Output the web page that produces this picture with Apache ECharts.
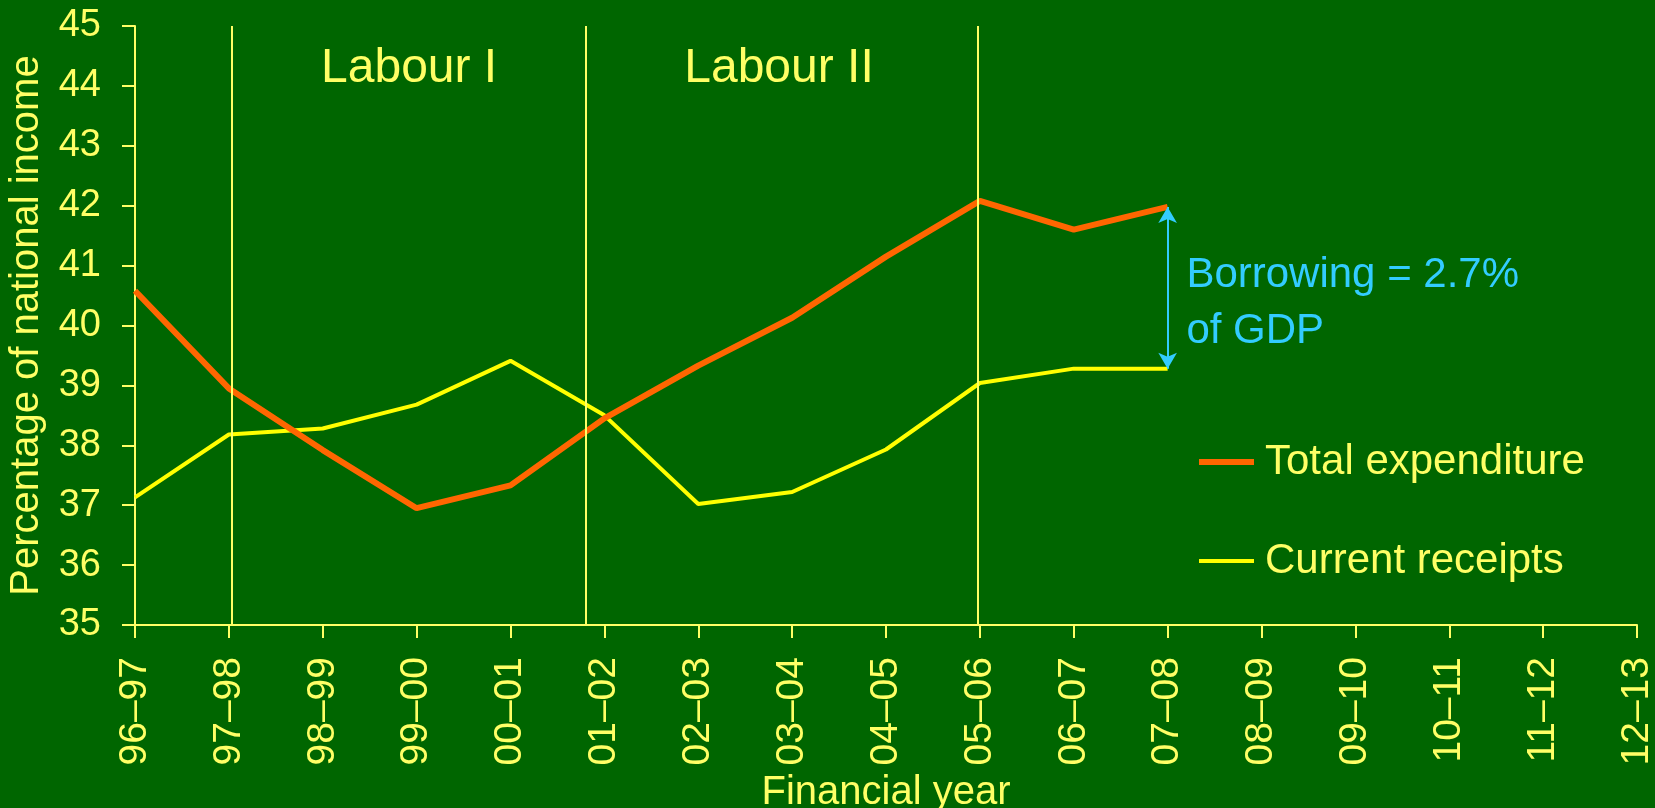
<!DOCTYPE html>
<html>
<head>
<meta charset="utf-8">
<script src="https://cdn.jsdelivr.net/npm/echarts@6/dist/echarts.min.js"></script>
<style>
html,body{margin:0;padding:0;background:#006600;}
#c{width:1655px;height:808px;}
</style>
</head>
<body>
<div id="c"></div>
<script>
// ---- data ----
var years = ['96\u201397','97\u201398','98\u201399','99\u201300','00\u201301','01\u201302','02\u201303','03\u201304','04\u201305','05\u201306','06\u201307','07\u201308','08\u201309','09\u201310','10\u201311','11\u201312','12\u201313'];
var totalExpenditure = [40.58, 38.95, 37.92, 36.95, 37.33, 38.45, 39.33, 40.13, 41.15, 42.08, 41.6, 41.98];
var currentReceipts  = [37.13, 38.18, 38.28, 38.68, 39.41, 38.5, 37.02, 37.22, 37.93, 39.04, 39.28, 39.28];
var yTicks = {min: 35, max: 45, step: 1};
var periodDividers = [1.03, 4.8, 8.98];          // positions (in year index) of the vertical period lines
var periodLabels = [{name: 'Labour I', x: 2.92, y: 44.28}, {name: 'Labour II', x: 6.86, y: 44.28}];
var borrowingText = 'Borrowing = 2.7%\nof GDP';
var borrowingIndex = 11;

var TXT = '#FFFF66';
var FONT = '"Liberation Sans", Arial, sans-serif';

function pairs(arr){ return arr.map(function(v,i){ return [i, v]; }); }

var chart = echarts.init(document.getElementById('c'), null, {renderer: 'canvas'});
var option = {
  backgroundColor: '#006600',
  animation: false,
  textStyle: {fontFamily: FONT},
  grid: {left: 135, right: 18, top: 26, bottom: 183, containLabel: false, outerBoundsMode: 'none'},
  legend: {
    orient: 'vertical',
    left: 1194,
    top: 436,
    itemWidth: 55,
    itemHeight: 6,
    itemGap: 57,
    symbolKeepAspect: true,
    data: [
      {name: 'Total expenditure', icon: 'path://M0,0H55V6H0Z', itemStyle: {color: '#FF6600'}},
      {name: 'Current receipts', icon: 'path://M0,0H55V4H0Z', itemStyle: {color: '#FFFF00'}}
    ],
    textStyle: {color: TXT, fontSize: 42, fontFamily: FONT, padding: [0, 0, 0, 6]}
  },
  xAxis: {
    type: 'value',
    min: 0, max: years.length - 1, interval: 1,
    name: 'Financial year',
    nameLocation: 'middle',
    nameGap: 146,
    nameTextStyle: {color: TXT, fontSize: 40, fontFamily: FONT},
    axisLine: {show: true, lineStyle: {color: TXT, width: 2}},
    axisTick: {show: true, inside: false, length: 13, lineStyle: {color: TXT, width: 2}},
    splitLine: {show: false},
    axisLabel: {
      color: TXT, fontSize: 39, fontFamily: FONT, rotate: 90, margin: 32,
      formatter: function(v){ return years[Math.round(v)] || ''; }
    }
  },
  yAxis: {
    type: 'value',
    min: yTicks.min, max: yTicks.max, interval: yTicks.step,
    name: 'Percentage of national income',
    nameLocation: 'middle',
    nameGap: 88,
    nameMoveOverlap: false,
    nameRotate: 90,
    nameTextStyle: {color: TXT, fontSize: 40, fontFamily: FONT},
    axisLine: {show: true, lineStyle: {color: TXT, width: 2}},
    axisTick: {show: true, inside: false, length: 13, lineStyle: {color: TXT, width: 2}},
    splitLine: {show: false},
    axisLabel: {color: TXT, fontSize: 38, fontFamily: FONT, margin: 34}
  },
  series: [
    {
      name: 'Current receipts',
      type: 'line',
      data: pairs(currentReceipts),
      symbol: 'none',
      z: 3,
      lineStyle: {color: '#FFFF00', width: 4},
      itemStyle: {color: '#FFFF00'},
      markLine: {
        silent: true,
        symbol: ['none', 'none'],
        label: {show: false},
        lineStyle: {color: TXT, width: 2, type: 'solid'},
        data: periodDividers.map(function(x){ return {xAxis: x}; })
      },
      markPoint: {
        silent: true,
        symbol: 'rect', symbolSize: 0,
        label: {show: true, color: TXT, fontSize: 48, fontFamily: FONT, formatter: '{b}', align: 'center', verticalAlign: 'middle', position: 'inside'},
        data: periodLabels.map(function(p){ return {name: p.name, coord: [p.x, p.y]}; })
      }
    },
    {
      name: 'Total expenditure',
      type: 'line',
      data: pairs(totalExpenditure),
      symbol: 'none',
      z: 4,
      lineStyle: {color: '#FF6600', width: 6},
      itemStyle: {color: '#FF6600'},
      markLine: {
        silent: true,
        symbol: ['arrow', 'arrow'],
        symbolSize: [14, 16],
        label: {show: false},
        lineStyle: {color: '#33CCFF', width: 2, type: 'solid'},
        data: [[
          {coord: [borrowingIndex, currentReceipts[borrowingIndex]]},
          {coord: [borrowingIndex, totalExpenditure[borrowingIndex]]}
        ]]
      },
      markPoint: {
        silent: true,
        symbol: 'rect', symbolSize: 0,
        label: {show: true, color: '#33CCFF', fontSize: 42, lineHeight: 56, fontFamily: FONT, formatter: '{b}', align: 'left', verticalAlign: 'middle', position: 'inside'},
        data: [{name: borrowingText, coord: [borrowingIndex + 0.2, 40.37]}]
      }
    }
  ]
};
chart.setOption(option);
</script>
</body>
</html>
